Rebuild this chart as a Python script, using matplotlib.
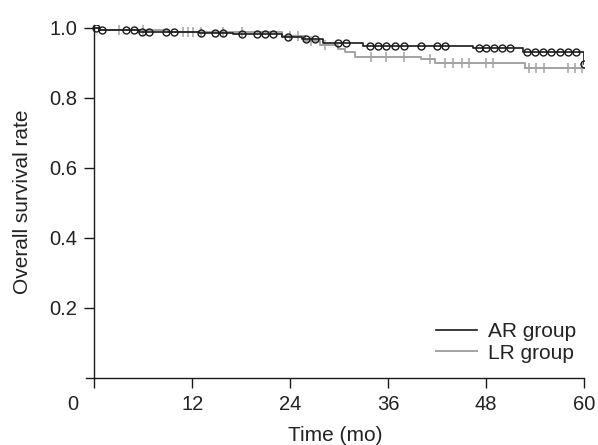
import numpy as np
import matplotlib
matplotlib.use("Agg")
import matplotlib.pyplot as plt
from matplotlib.transforms import ScaledTranslation

plt.rcParams['font.family'] = ['Liberation Sans', 'DejaVu Sans']

# AR group: step times and survival after each step
ar_times = [0, 0.6, 5.5, 12.8, 17.0, 23.0, 25.5, 28.0, 32.9, 46.4, 52.5, 60.0]
ar_surv = [1.0, 0.995, 0.989, 0.985, 0.981, 0.973, 0.967, 0.957, 0.949, 0.942, 0.932, 0.896]
ar_censor = [0.2, 0.9, 3.9, 4.9, 5.8, 6.7, 8.8, 9.8, 13.1, 14.8, 15.8, 18.1, 19.9, 20.9,
             21.9, 23.8, 26.0, 27.1, 29.9, 30.9, 33.8, 34.8, 35.8, 36.9, 38.0, 40.0,
             42.0, 43.0, 47.1, 48.0, 49.0, 50.0, 50.9, 53.0, 54.0, 55.0, 56.0, 57.0,
             58.0, 59.0, 60.0]

# LR group
lr_times = [0, 0.6, 9.0, 23.0, 25.8, 27.7, 29.9, 30.7, 32.0, 40.0, 41.7, 52.8]
lr_surv = [1.0, 0.994, 0.987, 0.976, 0.962, 0.950, 0.940, 0.930, 0.918, 0.910, 0.899, 0.885]
lr_censor = [3.0, 6.0, 10.9, 11.5, 12.1, 13.1, 15.8, 18.1, 24.0, 25.0, 26.5, 28.3, 33.9,
             35.8, 37.9, 41.1, 43.0, 44.0, 45.0, 45.9, 48.0, 48.9, 53.3, 54.1, 55.1,
             58.0, 58.9, 59.8]

x_ticks = [0, 12, 24, 36, 48, 60]
y_ticks = [0.2, 0.4, 0.6, 0.8, 1.0]


def surv_at(times, surv, t):
    idx = np.searchsorted(times, t, side='right') - 1
    return np.array(surv)[idx]


fig = plt.figure(figsize=(5.98, 4.45), dpi=100)
ax = fig.add_axes([86 / 598, 67 / 445, 498 / 598, 353 / 445])

txt = '#222222'
ar_col = '#1a1a1a'
lr_col = '#a3a3a3'

# LR curve
lr_x = list(lr_times) + [60]
lr_y = list(lr_surv) + [lr_surv[-1]]
ax.step(lr_x, lr_y, where='post', color=lr_col, lw=1.4, label='LR group', zorder=2)
ax.plot(lr_censor, surv_at(lr_times, lr_surv, np.array(lr_censor)), '+',
        color=lr_col, ms=7.5, mew=1.1, zorder=2)

# AR curve
ax.step(ar_times, ar_surv, where='post', color=ar_col, lw=1.2, label='AR group', zorder=3)
ar_c = np.array(ar_censor)
ar_cy = surv_at(ar_times, ar_surv, ar_c)
ax.plot(ar_c, ar_cy, 'o', mfc='none', mec=ar_col, ms=5, mew=1.0, zorder=3)

ax.set_xlim(-1, 60)
ax.set_ylim(0, 1.008)

for s in ['top', 'right']:
    ax.spines[s].set_visible(False)
ax.spines['left'].set_position(('data', 0))
ax.spines['left'].set_bounds(0, 1.008)
for s in ['left', 'bottom']:
    ax.spines[s].set_color(ar_col)
    ax.spines[s].set_linewidth(1.0)

ax.set_xticks(x_ticks)
ax.set_xticklabels([str(v) for v in x_ticks])
ax.set_yticks(y_ticks)
ax.set_yticklabels([f'{v:.1f}' for v in y_ticks])
ax.tick_params(axis='both', direction='out', length=7, width=1.0, color=ar_col,
               labelsize=14.5, labelcolor=txt, pad=5)

# shift the "0" label to the left of the y axis
lbl0 = ax.get_xticklabels()[0]
lbl0.set_transform(lbl0.get_transform() + ScaledTranslation(-0.215, 0, fig.dpi_scale_trans))

ax.set_xlabel('Time (mo)', fontsize=15, color=txt, labelpad=9)
ax.set_ylabel('Overall survival rate', fontsize=15, color=txt)
ax.yaxis.set_label_coords(-0.108, 0.5)

handles, labels = ax.get_legend_handles_labels()
order = [labels.index('AR group'), labels.index('LR group')]
ax.legend([handles[i] for i in order], [labels[i] for i in order],
          loc='lower right', bbox_to_anchor=(1.022, -0.01), frameon=False,
          fontsize=15, handlelength=1.95, handletextpad=0.55, labelspacing=0.12,
          labelcolor=txt)

fig.savefig('out.png', dpi=100)
